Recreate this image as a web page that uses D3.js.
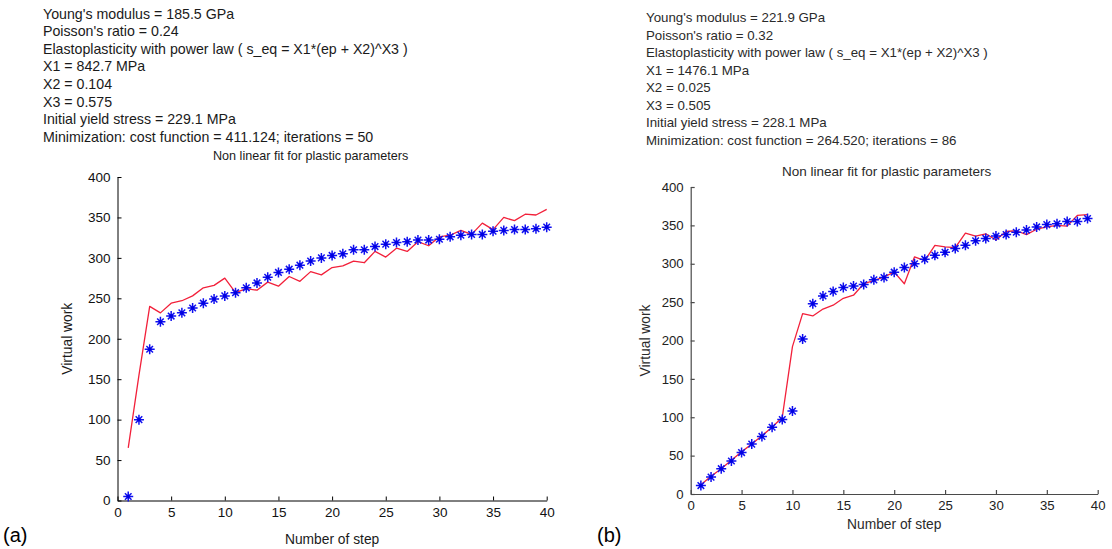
<!DOCTYPE html>
<html>
<head>
<meta charset="utf-8">
<script src="https://cdn.jsdelivr.net/npm/d3@7/dist/d3.min.js"></script>
<style>
  html, body { margin: 0; padding: 0; background: #fff; }
  svg { display: block; }
  text { font-family: "Liberation Sans", Arial, sans-serif; }
</style>
</head>
<body>
<svg id="chart" width="1112" height="549"></svg>
<script>
// ---------- DATA ----------
const stepsA = [1,2,3,4,5,6,7,8,9,10,11,12,13,14,15,16,17,18,19,20,21,22,23,24,25,26,27,28,29,30,31,32,33,34,35,36,37,38,39,40];
const measuredA = [5,100,187,221,228,232,238,244,249,253,257,263,269,276,282,286,291,296,300,303,305,310,310,314,317,319,320,322,322,323,326,328,329,329,333,334,335,335,336,338];
const fitA = [65,155,240,232,244,247,253,263,266,275,257,262,260,270,265,277,271,283,279,288,290,296,294,308,301,312,308,320,315,326,328,334,329,343,335,350,346,354,353,360];

const stepsB = [1,2,3,4,5,6,7,8,9,10,11,12,13,14,15,16,17,18,19,20,21,22,23,24,25,26,27,28,29,30,31,32,33,34,35,36,37,38,39];
const measuredB = [11,22,33,43,54,65,75,87,97,108,202,248,258,264,269,271,273,279,282,289,295,300,306,311,315,320,324,330,333,336,338,341,344,348,351,352,355,355,359];
const fitB = [12,23,33,44,55,65,76,87,100,192,235,232,241,246,255,259,274,278,283,289,274,309,304,324,322,321,340,336,339,331,342,343,338,345,348,350,349,363,364];

const xTicks = [0,5,10,15,20,25,30,35,40];
const yTicks = [0,50,100,150,200,250,300,350,400];

const infoA = [
  "Young's modulus = 185.5 GPa",
  "Poisson's ratio = 0.24",
  "Elastoplasticity with power law ( s_eq = X1*(ep + X2)^X3 )",
  "X1 = 842.7 MPa",
  "X2 = 0.104",
  "X3 = 0.575",
  "Initial yield stress = 229.1 MPa",
  "Minimization: cost function = 411.124; iterations = 50"
];
const infoB = [
  "Young's modulus = 221.9 GPa",
  "Poisson's ratio = 0.32",
  "Elastoplasticity with power law ( s_eq = X1*(ep + X2)^X3 )",
  "X1 = 1476.1 MPa",
  "X2 = 0.025",
  "X3 = 0.505",
  "Initial yield stress = 228.1 MPa",
  "Minimization: cost function = 264.520; iterations = 86"
];
const titleText = "Non linear fit for plastic parameters";
const xLabel = "Number of step";
const yLabel = "Virtual work";

// ---------- DRAW ----------
const svg = d3.select("#chart");
svg.append("rect").attr("width", 1112).attr("height", 549).attr("fill", "#fff");

function panel(cfg) {
  const g = svg.append("g");
  const x = d3.scaleLinear().domain([0, 40]).range([cfg.x0, cfg.x1]);
  const y = d3.scaleLinear().domain([0, 400]).range([cfg.y0, cfg.y1]);

  // info text block
  g.append("g").selectAll("text").data(cfg.info).join("text")
    .attr("x", cfg.textX)
    .attr("y", (d, i) => cfg.textY + i * cfg.lineH)
    .attr("font-size", cfg.textSize)
    .attr("fill", cfg.textColor)
    .text(d => d);

  // title
  g.append("text")
    .attr("x", cfg.titleX).attr("y", cfg.titleY)
    .attr("font-size", cfg.titleSize)
    .attr("fill", cfg.textColor)
    .text(titleText);

  // axes
  const xAxis = d3.axisBottom(x).tickValues(xTicks).tickSizeInner(-4).tickSizeOuter(0).tickPadding(7);
  const yAxis = d3.axisLeft(y).tickValues(yTicks).tickSizeInner(-4).tickSizeOuter(0).tickPadding(7);
  const gx = g.append("g").attr("transform", `translate(0,${cfg.y0})`).call(xAxis);
  const gy = g.append("g").attr("transform", `translate(${cfg.x0},0)`).call(yAxis);
  [gx, gy].forEach(a => {
    a.select(".domain").attr("stroke", cfg.axisColor).attr("stroke-width", cfg.axisW);
    a.selectAll(".tick line").attr("stroke", cfg.axisColor).attr("stroke-width", cfg.axisW);
    a.selectAll(".tick text").attr("fill", cfg.tickColor)
      .attr("font-size", cfg.tickSize)
      .attr("font-family", "Liberation Sans, Arial, sans-serif");
  });

  // axis labels
  g.append("text")
    .attr("x", (cfg.x0 + cfg.x1) / 2).attr("y", cfg.xLabelY)
    .attr("text-anchor", "middle").attr("font-size", cfg.labelSize)
    .attr("fill", cfg.textColor).text(xLabel);
  g.append("text")
    .attr("transform", `translate(${cfg.yLabelX},${(cfg.y0 + cfg.y1) / 2}) rotate(-90)`)
    .attr("text-anchor", "middle").attr("font-size", cfg.labelSize)
    .attr("fill", cfg.textColor).text(yLabel);

  // red fit line
  const line = d3.line().x((d, i) => x(cfg.steps[i])).y(d => y(d));
  g.append("path").datum(cfg.fit)
    .attr("d", line)
    .attr("fill", "none")
    .attr("stroke", "#f2203a")
    .attr("stroke-width", 1.3)
    .attr("stroke-linejoin", "round");

  // blue star markers (MATLAB '*': plus + cross)
  const s = 5, c = 3.3;
  const starPath = `M${-s},0L${s},0M0,${-s}L0,${s}M${-c},${-c}L${c},${c}M${-c},${c}L${c},${-c}`;
  g.append("g").selectAll("path").data(cfg.measured).join("path")
    .attr("transform", (d, i) => `translate(${x(cfg.steps[i])},${y(d)})`)
    .attr("d", starPath)
    .attr("fill", "none")
    .attr("stroke", "#1010f0")
    .attr("stroke-width", 1.5);
  g.append("g").selectAll("circle").data(cfg.measured).join("circle")
    .attr("cx", (d, i) => x(cfg.steps[i]))
    .attr("cy", d => y(d))
    .attr("r", 1.8)
    .attr("fill", "#0000e0");

  // panel letter
  g.append("text")
    .attr("x", cfg.letterX).attr("y", cfg.letterY)
    .attr("font-family", "Liberation Serif, Times New Roman, serif")
    .attr("font-size", 20).attr("fill", "#000")
    .text(cfg.letter);
}

panel({
  steps: stepsA, measured: measuredA, fit: fitA, info: infoA,
  x0: 117.5, x1: 546.7, y0: 500.5, y1: 177,
  textX: 43, textY: 18.5, lineH: 17.6, textSize: 14.2, titleSize: 12.6, textColor: "#1a1a1a",
  titleX: 213, titleY: 160,
  axisColor: "#000", axisW: 1, tickColor: "#111", tickSize: 13.5,
  labelSize: 13.8, xLabelY: 544, yLabelX: 72,
  letter: "(a)", letterX: 3, letterY: 542
});

panel({
  steps: stepsB, measured: measuredB, fit: fitB, info: infoB,
  x0: 690.7, x1: 1097.7, y0: 494, y1: 187,
  textX: 646, textY: 22, lineH: 17.5, textSize: 13.3, titleSize: 13.5, textColor: "#2a2a2a",
  titleX: 782, titleY: 176,
  axisColor: "#4a4a4a", axisW: 1.2, tickColor: "#222", tickSize: 13.2,
  labelSize: 13.8, xLabelY: 529, yLabelX: 650,
  letter: "(b)", letterX: 597, letterY: 542
});
</script>
</body>
</html>
